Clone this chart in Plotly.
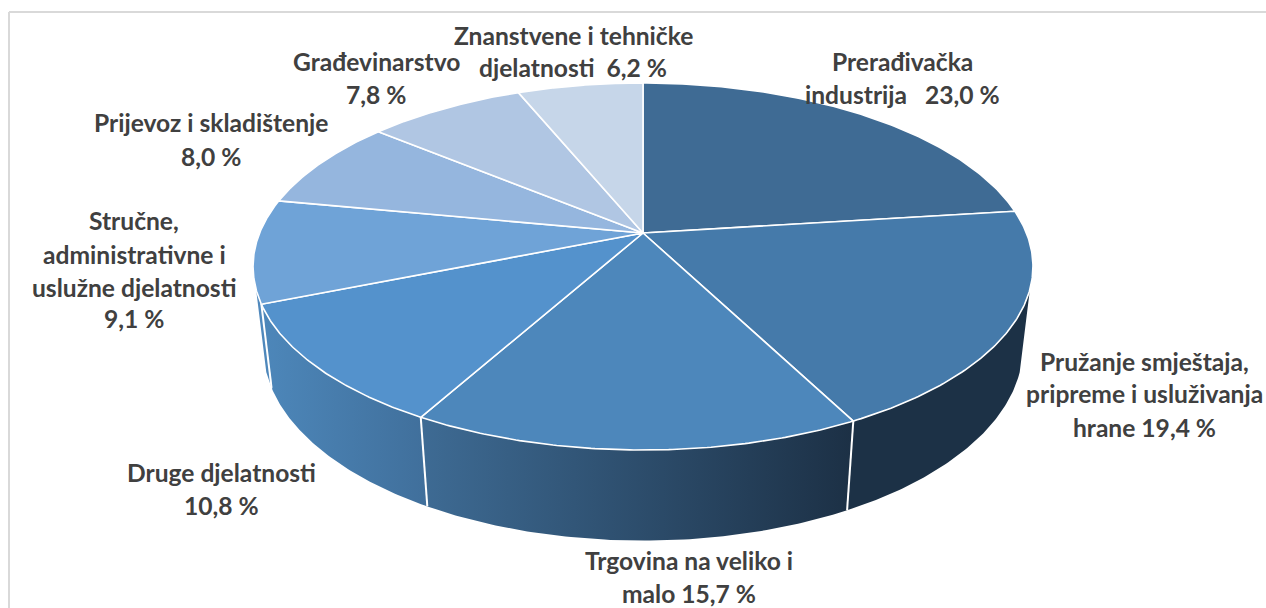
import numpy as np
import plotly.graph_objects as go

# --- data ---
categories = ["Prerađivačka industrija", "Pružanje smještaja, pripreme i usluživanja hrane",
              "Trgovina na veliko i malo", "Druge djelatnosti",
              "Stručne, administrativne i uslužne djelatnosti", "Prijevoz i skladištenje",
              "Građevinarstvo", "Znanstvene i tehničke djelatnosti"]
values = [23.0, 19.4, 15.7, 10.8, 9.1, 8.0, 7.8, 6.2]
top_colors = ["#3f6b94", "#457aaa", "#4d87bb", "#5492cc", "#6fa3d7", "#95b6de", "#b0c6e3", "#c6d6e9"]
wall_left_colors = ["#1c3146", "#1c3146", "#3e6b94", "#4d87ba", "#5189bd", "#000000", "#000000", "#000000"]
wall_right_colors = ["#1c3146", "#1c3146", "#1c3045", "#406f9b", "#4d87ba", "#000000", "#000000", "#000000"]

label_lines = [
    ["Prerađivačka", "industrija\u00a0\u00a0 23,0 %"],
    ["Pružanje smještaja,", "pripreme i usluživanja", "hrane 19,4 %"],
    ["Trgovina na veliko i", "malo 15,7 %"],
    ["Druge djelatnosti", "10,8 %"],
    ["Stručne,", "administrativne i", "uslužne djelatnosti", "9,1 %"],
    ["Prijevoz i skladištenje", "8,0 %"],
    ["Građevinarstvo", "7,8 %"],
    ["Znanstvene i tehničke", "djelatnosti\u00a0 6,2 %"],
]
label_x = [902, 1144, 689, 221, 134, 211, 376, 573]
label_y = [[61, 94], [361, 393, 427], [560, 593], [472, 505], [220, 254, 287, 318],
           [122, 156], [61, 94], [35, 67]]

# --- 3D projection of the pie (perspective) ---
CX, CY = 643.0, 233.0
A, B = 383.4, 177.4
K = 0.1826
DROP, SHRINK = 81.9, 0.0256
SIL_L, SIL_R = 107.5, 252.5


def project(deg, lower=False):
    t = np.radians(deg)
    u, v = np.sin(t), np.cos(t)
    w = 1 + K * v + (SHRINK if lower else 0)
    return CX + A * u / w, CY + (-B * v + (DROP if lower else 0)) / w


bounds = np.concatenate([[0], np.cumsum(values)]) * 3.6
fig = go.Figure()

# side wall
for i in range(len(values)):
    a0, a1 = max(bounds[i], SIL_L), min(bounds[i + 1], SIL_R)
    if a1 <= a0:
        continue
    th = np.linspace(a0, a1, 80)
    xt, yt = project(th)
    xb, yb = project(th[::-1], True)
    xs = np.concatenate([xt, xb, xt[:1]])
    ys = np.concatenate([yt, yb, yt[:1]])
    fig.add_trace(go.Scatter(
        x=xs, y=ys, mode="lines", fill="toself", line=dict(width=0, color="rgba(0,0,0,0)"),
        fillgradient=dict(type="horizontal", start=float(xs.min()), stop=float(xs.max()),
                          colorscale=[[0, wall_left_colors[i]], [1, wall_right_colors[i]]]),
        hoverinfo="skip", showlegend=False))

# wall separators
for b in bounds[1:-1]:
    if SIL_L < b < SIL_R:
        xt, yt = project(b)
        xb, yb = project(b, True)
        fig.add_trace(go.Scatter(x=[xt, xb], y=[yt, yb], mode="lines",
                                 line=dict(color="white", width=2),
                                 hoverinfo="skip", showlegend=False))

# top face
for i, name in enumerate(categories):
    th = np.linspace(bounds[i], bounds[i + 1], 120)
    xt, yt = project(th)
    fig.add_trace(go.Scatter(
        x=np.concatenate([[CX], xt, [CX]]), y=np.concatenate([[CY], yt, [CY]]),
        mode="lines", fill="toself", fillcolor=top_colors[i],
        line=dict(color="white", width=1.6), name=name, hoverinfo="name", showlegend=False))

# labels
for lines, lx, lys in zip(label_lines, label_x, label_y):
    for text, ly in zip(lines, lys):
        fig.add_annotation(x=lx, y=ly, text=text, xref="x", yref="y", showarrow=False,
                           xanchor="center", yanchor="middle",
                           font=dict(family="Lato", size=24.6, color="#404040", weight=700))

frame = dict(type="line", xref="x", yref="y", line=dict(color="#d9d9d9", width=2), layer="below")
fig.add_shape(x0=9, x1=9, y0=12, y1=608, **frame)
fig.add_shape(x0=9, x1=1266, y0=12, y1=12, **frame)

fig.update_layout(
    width=1266, height=608, margin=dict(l=0, r=0, t=0, b=0),
    paper_bgcolor="white", plot_bgcolor="white", showlegend=False,
    xaxis=dict(range=[0, 1266], visible=False, fixedrange=True),
    yaxis=dict(range=[608, 0], visible=False, fixedrange=True),
)
fig.write_html("out.html", config={"displayModeBar": False},
               post_script="document.body.style.margin='0';document.body.style.overflow='hidden';")
